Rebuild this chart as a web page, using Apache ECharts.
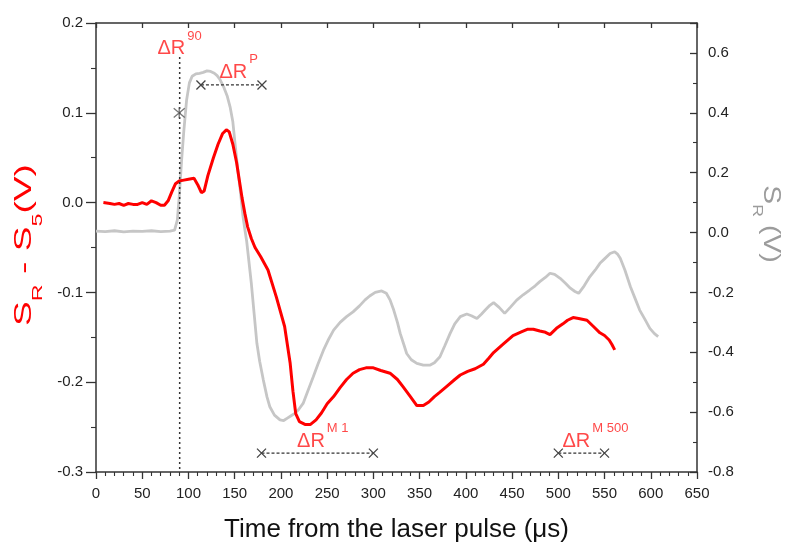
<!DOCTYPE html>
<html>
<head>
<meta charset="utf-8">
<script src="https://cdn.jsdelivr.net/npm/echarts@6/dist/echarts.min.js"></script>
<style>
html, body { margin: 0; padding: 0; background: #fff; }
#chart { width: 795px; height: 555px; }
</style>
</head>
<body>
<div id="chart"></div>
<script>
// red trace S_R - S_5 (left axis)
const redTime = [8, 15, 20, 25, 30, 35, 40, 45, 50, 55, 60, 65, 70, 74, 78, 82, 86, 90, 95, 100,
    106, 110, 114, 117, 121, 127, 132, 137, 141, 144, 148, 152, 155, 158, 161, 164, 168, 172, 178, 186,
    195, 204, 210, 213, 216, 220, 226, 232, 238, 244, 250, 257, 264, 271, 278, 285, 292, 300, 308, 318,
    326, 332, 340, 347, 354, 360, 366, 372, 380, 388, 394, 402, 410, 419, 425, 430, 440, 451, 460, 467,
    473, 480, 485, 491, 498, 505, 510, 516, 522, 531, 538, 545, 550, 555, 558, 561];
const redValues = [0.000, -0.001, -0.002, -0.001, -0.003, -0.001, -0.002, -0.002, 0.000, -0.002, 0.002, 0.000, -0.003, -0.003, 0.002, 0.012, 0.021, 0.024, 0.025, 0.026,
    0.027, 0.020, 0.011, 0.013, 0.030, 0.050, 0.065, 0.077, 0.081, 0.079, 0.065, 0.045, 0.025, 0.005, -0.012, -0.027, -0.040, -0.050, -0.060, -0.075,
    -0.105, -0.138, -0.179, -0.210, -0.235, -0.244, -0.247, -0.247, -0.242, -0.234, -0.224, -0.216, -0.206, -0.197, -0.190, -0.186, -0.184, -0.184, -0.187, -0.190,
    -0.197, -0.205, -0.216, -0.226, -0.226, -0.222, -0.216, -0.211, -0.204, -0.197, -0.192, -0.188, -0.185, -0.180, -0.173, -0.167, -0.158, -0.148, -0.144, -0.141,
    -0.141, -0.143, -0.144, -0.147, -0.140, -0.135, -0.131, -0.128, -0.129, -0.131, -0.138, -0.145, -0.148, -0.153, -0.158, -0.164];

// gray trace S_R (right axis)
const grayTime = [0, 10, 20, 30, 40, 50, 60, 70, 80, 85, 88, 90, 92.6, 95, 98, 101, 104, 108, 112, 116,
    120, 124, 128, 131, 134, 138, 142, 145, 148, 150, 153, 156, 159, 161, 163, 168, 171, 174, 177, 181,
    185, 188, 193, 199, 203, 207, 211, 215, 219, 224, 229, 235, 240, 246, 251, 257, 264, 271, 278, 285,
    291, 296, 302, 309, 314, 318, 322, 326, 329, 333, 336, 341, 347, 354, 361, 366, 372, 377, 383, 388,
    394, 401, 406, 412, 417, 421, 426, 430, 436, 442, 448, 455, 462, 469, 475, 480, 486, 491, 496, 502,
    508, 513, 518, 522, 528, 534, 540, 545, 550, 556, 561, 564, 567, 572, 578, 583, 588, 594, 599, 604, 608];
const grayValues = [0.005, 0.003, 0.006, 0.002, 0.005, 0.004, 0.006, 0.003, 0.005, 0.008, 0.042, 0.120, 0.242, 0.340, 0.443, 0.500, 0.522, 0.530, 0.532, 0.535,
    0.540, 0.538, 0.532, 0.524, 0.512, 0.487, 0.455, 0.420, 0.370, 0.309, 0.220, 0.142, 0.053, 0.010, -0.030, -0.170, -0.270, -0.370, -0.430, -0.493,
    -0.550, -0.582, -0.610, -0.626, -0.628, -0.620, -0.612, -0.604, -0.592, -0.571, -0.530, -0.482, -0.440, -0.393, -0.360, -0.326, -0.300, -0.281, -0.265, -0.245,
    -0.225, -0.212, -0.200, -0.195, -0.203, -0.225, -0.259, -0.300, -0.337, -0.375, -0.404, -0.425, -0.437, -0.443, -0.443, -0.435, -0.415, -0.380, -0.337, -0.305,
    -0.281, -0.272, -0.278, -0.287, -0.272, -0.259, -0.243, -0.234, -0.250, -0.270, -0.250, -0.226, -0.208, -0.192, -0.178, -0.164, -0.150, -0.136, -0.140, -0.153,
    -0.170, -0.186, -0.197, -0.203, -0.178, -0.148, -0.125, -0.103, -0.088, -0.070, -0.064, -0.072, -0.086, -0.125, -0.181, -0.220, -0.259, -0.292, -0.320, -0.338, -0.348];

// dotted guide at the 90% rise and its star marker (left-axis units)
const guideTime = [90.5, 90.5];
const guideValue = [0.162, -0.3];
const starPoint = [90, 0.1];

// the three dashed ranges with x markers
const rangeP = [[113.5, 0.131], [179.5, 0.131]];
const rangeM1 = [[179, -0.279], [300, -0.279]];
const rangeM500 = [[500, -0.279], [550, -0.279]];

// annotation labels ΔR^sup, anchored at the baseline start
const labelSup = ['90', 'P', 'M 1', 'M 500'];
const labelTime = [67, 134, 218, 505];
const labelValue = [0.164, 0.138, -0.273, -0.273];

const FONT = 'Arial, "Liberation Sans", sans-serif';
const AXIS_COLOR = '#333';

function pairs(xs, ys) {
    return xs.map(function (x, i) { return [x, ys[i]]; });
}

const dom = document.getElementById('chart');
const myChart = echarts.init(dom, null, { renderer: 'canvas' });

const crossPath = 'path://M0,0L10,10M10,0L0,10';
const starPath = 'path://M0,0L10,10M10,0L0,10M5,-1L5,11';

function rangeSeries(data) {
    return {
        type: 'line',
        data: data,
        symbol: crossPath,
        symbolSize: 9,
        lineStyle: { color: '#333', width: 1.2, type: [3, 2] },
        itemStyle: { color: 'rgba(0,0,0,0)', borderColor: '#444', borderWidth: 1.3 },
        silent: true,
        z: 5
    };
}

// axis titles: the source figure has its lettering stretched along the text, hence scaleX
function axisTitle(text, x, y, rotation, stretch, color) {
    return {
        type: 'text',
        x: x,
        y: y,
        rotation: rotation,
        scaleX: stretch,
        style: {
            text: text,
            align: 'center',
            verticalAlign: 'middle',
            rich: {
                m: { fill: color, fontSize: 24, lineHeight: 42, fontFamily: FONT },
                s: { fill: color, fontSize: 15, lineHeight: 15, verticalAlign: 'bottom', fontFamily: FONT }
            }
        },
        silent: true
    };
}

const option = {
    animation: false,
    backgroundColor: '#fff',
    grid: { left: 96, right: 98, top: 23, bottom: 83, containLabel: false },
    xAxis: [
        {
            type: 'value',
            position: 'bottom',
            min: 0,
            max: 650,
            interval: 50,
            axisLine: { onZero: false, lineStyle: { color: AXIS_COLOR, width: 1.5 } },
            axisTick: { show: true, length: 7, lineStyle: { color: AXIS_COLOR, width: 1.3 } },
            minorTick: { show: true, splitNumber: 5, length: 4, lineStyle: { color: AXIS_COLOR, width: 1.1 } },
            splitLine: { show: false },
            axisLabel: { color: '#222', fontSize: 15, fontFamily: FONT, margin: 14 },
            name: 'Time from the laser pulse (\u03bcs)',
            nameLocation: 'middle',
            nameGap: 45,
            nameTextStyle: { color: '#111', fontSize: 26, fontFamily: FONT }
        },
        {
            type: 'value',
            position: 'top',
            min: 0,
            max: 650,
            interval: 50,
            axisLine: { onZero: false, lineStyle: { color: AXIS_COLOR, width: 1.5 } },
            axisTick: { show: true, inside: true, length: 5, lineStyle: { color: AXIS_COLOR, width: 1.3 } },
            axisLabel: { show: false },
            splitLine: { show: false }
        }
    ],
    yAxis: [
        {
            type: 'value',
            position: 'left',
            min: -0.3,
            max: 0.2,
            interval: 0.1,
            axisLine: { show: true, onZero: false, lineStyle: { color: AXIS_COLOR, width: 1.5 } },
            axisTick: { show: true, length: 10, lineStyle: { color: AXIS_COLOR, width: 1.3 } },
            minorTick: { show: true, splitNumber: 2, length: 5, lineStyle: { color: AXIS_COLOR, width: 1.1 } },
            splitLine: { show: false },
            axisLabel: {
                color: '#222', fontSize: 15, fontFamily: FONT, margin: 13,
                formatter: function (v) { return v.toFixed(1); }
            }
        },
        {
            type: 'value',
            position: 'right',
            min: -0.8,
            max: 0.7,
            interval: 0.2,
            axisLine: { show: true, onZero: false, lineStyle: { color: AXIS_COLOR, width: 1.5 } },
            axisTick: { show: true, inside: true, length: 7, lineStyle: { color: AXIS_COLOR, width: 1.3 } },
            minorTick: { show: true, splitNumber: 2, length: 4, lineStyle: { color: AXIS_COLOR, width: 1.1 } },
            splitLine: { show: false },
            axisLabel: {
                color: '#222', fontSize: 15, fontFamily: FONT, margin: 11, showMaxLabel: false,
                formatter: function (v) { return v.toFixed(1); }
            }
        }
    ],
    graphic: [
        axisTitle('{m|S}{s|R}{m| - S}{s|5}{m|(V)}', 24, 245, Math.PI / 2, 1.55, '#ff0000'),
        axisTitle('{m|S}{s|R}{m| (V)}', 771, 224, -Math.PI / 2, 1.18, '#9c9c9c')
    ],
    series: [
        {
            name: 'S_R',
            type: 'line',
            xAxisIndex: 0,
            yAxisIndex: 1,
            data: pairs(grayTime, grayValues),
            showSymbol: false,
            symbol: 'none',
            lineStyle: { color: '#c6c6c6', width: 2.8 },
            silent: true,
            z: 1
        },
        {
            name: 'S_R - S_5',
            type: 'line',
            xAxisIndex: 0,
            yAxisIndex: 0,
            data: pairs(redTime, redValues),
            showSymbol: false,
            symbol: 'none',
            lineStyle: { color: '#ff0000', width: 3 },
            silent: true,
            z: 2
        },
        {
            type: 'line',
            data: pairs(guideTime, guideValue),
            symbol: 'none',
            lineStyle: { color: '#333', width: 1.5, type: [2, 3] },
            silent: true,
            z: 3
        },
        {
            type: 'scatter',
            data: [starPoint],
            symbol: starPath,
            symbolSize: 11,
            itemStyle: { color: 'rgba(0,0,0,0)', borderColor: '#555', borderWidth: 1.3 },
            silent: true,
            z: 5
        },
        rangeSeries(rangeP),
        rangeSeries(rangeM1),
        rangeSeries(rangeM500),
        {
            type: 'scatter',
            data: pairs(labelTime, labelValue),
            symbolSize: 1,
            itemStyle: { color: 'rgba(0,0,0,0)' },
            silent: true,
            z: 6,
            label: {
                show: true,
                position: [0, 0],
                align: 'left',
                verticalAlign: 'bottom',
                offset: [0, 13],
                formatter: function (p) {
                    return '{d|\u0394R}{s|' + labelSup[p.dataIndex] + '}';
                },
                rich: {
                    d: { color: '#ff1a1a', fontSize: 20, lineHeight: 38, fontFamily: FONT },
                    s: { color: '#ff1a1a', fontSize: 13, lineHeight: 13, verticalAlign: 'top', fontFamily: FONT, padding: [0, 0, 0, 2] }
                }
            }
        }
    ]
};

myChart.setOption(option);
window.addEventListener('resize', function () { myChart.resize(); });
</script>
</body>
</html>
